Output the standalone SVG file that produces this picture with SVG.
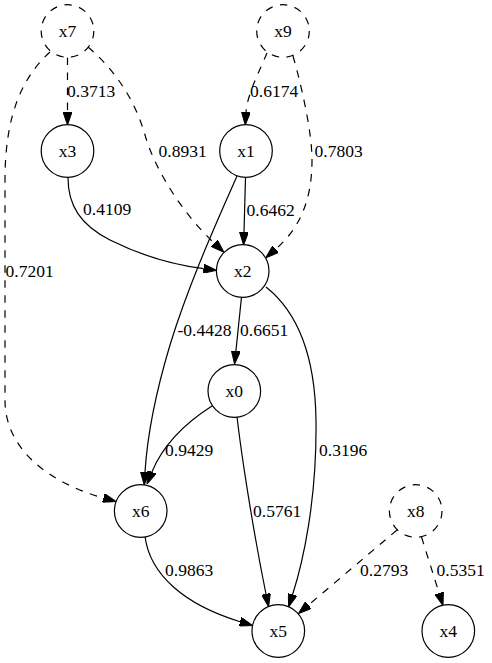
<svg xmlns="http://www.w3.org/2000/svg" width="492" height="663" viewBox="0 0 492 663">
<defs>
<marker id="ah" markerUnits="userSpaceOnUse" viewBox="0 0 13 9" refX="0" refY="4.5" markerWidth="13" markerHeight="9" orient="auto">
<path d="M0,0 L13,4.5 L0,9 z" fill="#000" stroke="#000" stroke-width="1"/>
</marker>
<style>
.n{fill:#fff;stroke:#000;stroke-width:1.2}
.d{stroke-dasharray:7.5,7.5}
.e{fill:none;stroke:#000;stroke-width:1.2;marker-end:url(#ah)}
.t{font-family:"Liberation Serif","Times New Roman",serif;font-size:17.5px;fill:#000}
.c{text-anchor:middle}
</style>
</defs>
<rect width="492" height="663" fill="#fff"/>
<g id="edges">
<path class="e d" d="M67.5,57.5 L67.5,112"/>
<text class="t" x="67" y="96.5">0.3713</text>
<path class="e d" d="M267,53 C260,70 247,95 246,112"/>
<text class="t" x="250" y="96.5">0.6174</text>
<path class="e d" d="M293,56 C300,80 312,130 312,160 C312,200 300,228 275.6,249.2"/>
<text class="t" x="314.5" y="156.5">0.7803</text>
<path class="e d" d="M88,47 C115,70 135,100 145,135 C155,170 183,214 214.4,243.3"/>
<text class="t" x="158.5" y="156.5">0.8931</text>
<path class="e" d="M245.5,177.5 L244,232"/>
<text class="t" x="246.5" y="216">0.6462</text>
<path class="e" d="M68,177.5 C68,205 80,225 110,240 C140,255 175,265 203.6,268.7"/>
<text class="t" x="83" y="215">0.4109</text>
<path class="e d" d="M50,52 C25,75 5,110 5,180 L5,400 C5,450 50,483 103.5,498"/>
<text class="t" x="5.5" y="276.5">0.7201</text>
<path class="e" d="M237,176 C220,215 190,280 170,345 C155,395 147,440 145,472"/>
<text class="t" x="177.5" y="336">-0.4428</text>
<path class="e" d="M212,406 C190,420 165,440 151.9,472"/>
<text class="t" x="165" y="456">0.9429</text>
<path class="e" d="M241.5,297 L235.9,351.1"/>
<text class="t" x="240" y="336">0.6651</text>
<path class="e" d="M266,287 C295,310 315,350 316,420 C317,500 303,562 292.6,594.5"/>
<text class="t" x="319" y="456">0.3196</text>
<path class="e" d="M237,416.5 C242,460 254,535 266,594"/>
<text class="t" x="253" y="516.5">0.5761</text>
<path class="e" d="M145,536.5 C150,575 185,605 240.1,621.7"/>
<text class="t" x="165" y="576">0.9863</text>
<path class="e d" d="M397,530 L308.4,605.1"/>
<text class="t" x="360" y="576">0.2793</text>
<path class="e d" d="M421.5,537 L439.1,593.1"/>
<text class="t" x="436.5" y="576">0.5351</text>
</g>
<g id="x7"><circle class="n d" cx="67.5" cy="31" r="26.3"/><text class="t c" x="67.5" y="37">x7</text></g>
<g id="x9"><circle class="n d" cx="283" cy="31" r="26.3"/><text class="t c" x="283" y="37">x9</text></g>
<g id="x3"><circle class="n" cx="67.5" cy="151" r="26.3"/><text class="t c" x="67.5" y="157">x3</text></g>
<g id="x1"><circle class="n" cx="246" cy="151" r="26.3"/><text class="t c" x="246" y="157">x1</text></g>
<g id="x2"><circle class="n" cx="242.7" cy="271" r="26.3"/><text class="t c" x="242.7" y="277">x2</text></g>
<g id="x0"><circle class="n" cx="234.3" cy="391" r="26.3"/><text class="t c" x="234.3" y="397">x0</text></g>
<g id="x6"><circle class="n" cx="140.7" cy="511" r="26.3"/><text class="t c" x="140.7" y="517">x6</text></g>
<g id="x8"><circle class="n d" cx="415.7" cy="511" r="26.3"/><text class="t c" x="415.7" y="517">x8</text></g>
<g id="x5"><circle class="n" cx="278.3" cy="631" r="26.3"/><text class="t c" x="278.3" y="637">x5</text></g>
<g id="x4"><circle class="n" cx="448.3" cy="631" r="26.3"/><text class="t c" x="448.3" y="637">x4</text></g>
</svg>
